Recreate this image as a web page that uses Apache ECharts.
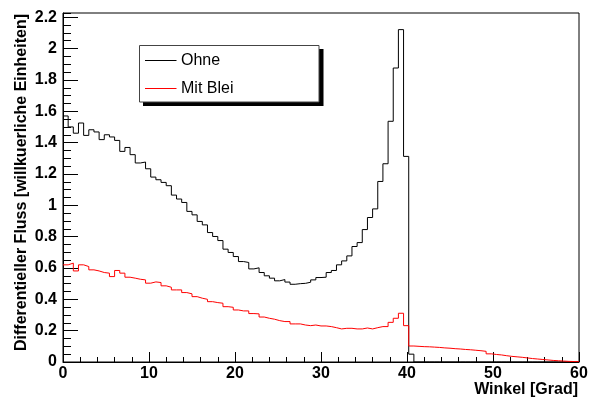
<!DOCTYPE html>
<html>
<head>
<meta charset="utf-8">
<script src="https://cdn.jsdelivr.net/npm/echarts@6/dist/echarts.min.js"></script>
<style>html,body{margin:0;padding:0;background:#fff;}#c{width:600px;height:403px;}</style>
</head>
<body>
<div id="c"></div>
<script>
// Histogram binning: 100 bins from 0 to 60 (width 0.6)
var binStart = 0;
var binWidth = 0.6;
var xTickLabels = ['0','10','20','30','40','50','60'];
var seriesNames = ['Ohne', 'Mit Blei'];
var seriesColors = ['#000000', '#ff0000'];

var ohne = [
 1.57,1.50,1.46,1.525,1.446,1.482,1.468,1.419,1.45,1.436,
 1.414,1.344,1.369,1.323,1.27,1.276,1.233,1.18,1.163,1.146,
 1.125,1.065,1.04,1.018,0.961,0.939,0.897,0.875,0.826,0.801,
 0.775,0.72,0.699,0.673,0.641,0.635,0.594,0.601,0.571,0.55,
 0.535,0.518,0.526,0.51,0.496,0.5,0.502,0.509,0.524,0.539,
 0.541,0.571,0.584,0.62,0.645,0.677,0.737,0.762,0.845,0.922,
 0.977,1.152,1.265,1.536,1.876,2.121,1.312,0.05,0,0,
 0,0,0,0,0,0,0,0,0,0,
 0,0,0,0,0,0,0,0,0,0,
 0,0,0,0,0,0,0,0,0,0
];

var mitBlei = [
 0.62,0.631,0.581,0.62,0.609,0.588,0.581,0.571,0.567,0.545,
 0.584,0.567,0.541,0.535,0.528,0.524,0.503,0.511,0.507,0.486,
 0.477,0.46,0.46,0.443,0.435,0.417,0.407,0.4,0.385,0.379,
 0.375,0.353,0.349,0.332,0.326,0.326,0.309,0.307,0.287,0.279,
 0.273,0.264,0.258,0.258,0.243,0.243,0.236,0.232,0.236,0.23,
 0.23,0.226,0.219,0.211,0.215,0.215,0.211,0.211,0.217,0.211,
 0.219,0.226,0.226,0.253,0.279,0.311,0.232,0.102,0.100,0.098,
 0.097,0.095,0.093,0.090,0.088,0.085,0.083,0.080,0.078,0.075,
 0.072,0.068,0.052,0.048,0.045,0.040,0.036,0.033,0.030,0.026,
 0.022,0.019,0.016,0.013,0.010,0.008,0.006,0.004,0.003,0.002
];

function toSteps(vals) {
  var d = [];
  for (var i = 0; i < vals.length; i++) {
    d.push([binStart + i * binWidth, vals[i]]);
  }
  d.push([binStart + vals.length * binWidth, vals[vals.length - 1]]);
  return d;
}

var FONT = "'Liberation Sans', Arial, Helvetica, sans-serif";
var LEGEND_FONT = "16px 'Liberation Sans', Arial, sans-serif";
var chart = echarts.init(document.getElementById('c'), null, {renderer: 'canvas'});
chart.setOption({
  animation: false,
  backgroundColor: '#fff',
  grid: {
    left: 63, right: 21, top: 13, bottom: 41,
    show: true, borderColor: '#000', borderWidth: 1, backgroundColor: 'transparent',
    containLabel: false, outerBoundsMode: 'none'
  },
  xAxis: {
    type: 'value', min: 0, max: 60, interval: 10,
    axisLine: {show: true, onZero: false, lineStyle: {color: '#000', width: 1}},
    axisTick: {show: true, inside: true, length: 10, lineStyle: {color: '#000'}},
    minorTick: {show: true, splitNumber: 5, length: 5, lineStyle: {color: '#000'}},
    splitLine: {show: false},
    axisLabel: {
      fontFamily: FONT, fontSize: 16, fontWeight: 'bold', color: '#000', margin: 4,
      formatter: function (v) { var s = String(Math.round(v)); return xTickLabels.indexOf(s) >= 0 ? s : ''; }
    }
  },
  yAxis: [{
    type: 'value', min: 0, max: 2.227, interval: 0.2,
    axisLine: {show: true, onZero: false, lineStyle: {color: '#000', width: 1}},
    axisTick: {show: true, inside: true, length: 15, lineStyle: {color: '#000'}},
    splitLine: {show: false},
    axisLabel: {
      fontFamily: FONT, fontSize: 16, fontWeight: 'bold', color: '#000', margin: 6,
      showMaxLabel: false,
      formatter: function (v) {
        var r = Math.round(v * 5) / 5;
        if (Math.abs(r - v) > 1e-6) return '';
        return String(Math.round(r * 10) / 10);
      }
    }
  }, {
    type: 'value', min: 0, max: 2.227, interval: 0.05, position: 'left',
    axisLine: {show: false},
    axisTick: {show: true, inside: true, length: 8, lineStyle: {color: '#000'}},
    splitLine: {show: false},
    axisLabel: {show: false}
  }],
  graphic: [{
    // legend box with ROOT-style drop shadow
    type: 'group', z: 20,
    children: [
      {type: 'rect', shape: {x: 143, y: 49, width: 180.5, height: 57}, style: {fill: '#000'}},
      {type: 'rect', shape: {x: 139.5, y: 45.5, width: 179.5, height: 56.5}, style: {fill: '#fff', stroke: '#444', lineWidth: 1}},
      {type: 'line', shape: {x1: 145, y1: 60.5, x2: 176.5, y2: 60.5}, style: {stroke: seriesColors[0], lineWidth: 1}},
      {type: 'text', x: 181, y: 60.5, style: {text: seriesNames[0], font: LEGEND_FONT, fill: '#000', align: 'left', verticalAlign: 'middle'}},
      {type: 'line', shape: {x1: 145, y1: 88.5, x2: 176.5, y2: 88.5}, style: {stroke: seriesColors[1], lineWidth: 1}},
      {type: 'text', x: 181, y: 88.5, style: {text: seriesNames[1], font: LEGEND_FONT, fill: '#000', align: 'left', verticalAlign: 'middle'}}
    ]
  }, {
    type: 'text', x: 22, y: 14, rotation: Math.PI / 2,
    style: {
      text: 'Differentieller Fluss [willkuerliche Einheiten]',
      font: "bold 16px 'Liberation Sans', Arial, sans-serif",
      fill: '#000', align: 'right', verticalAlign: 'middle'
    }
  }, {
    type: 'text', x: 578, y: 390,
    style: {
      text: 'Winkel [Grad]',
      font: "bold 16px 'Liberation Sans', Arial, sans-serif",
      fill: '#000', align: 'right', verticalAlign: 'middle'
    }
  }],
  series: [{
    name: seriesNames[0], type: 'line', step: 'end', showSymbol: false, symbol: 'none',
    yAxisIndex: 0, color: seriesColors[0],
    lineStyle: {color: seriesColors[0], width: 1}, data: toSteps(ohne), z: 3
  }, {
    name: seriesNames[1], type: 'line', step: 'end', showSymbol: false, symbol: 'none',
    yAxisIndex: 0, color: seriesColors[1],
    lineStyle: {color: seriesColors[1], width: 1}, data: toSteps(mitBlei), z: 4
  }]
});
</script>
</body>
</html>
